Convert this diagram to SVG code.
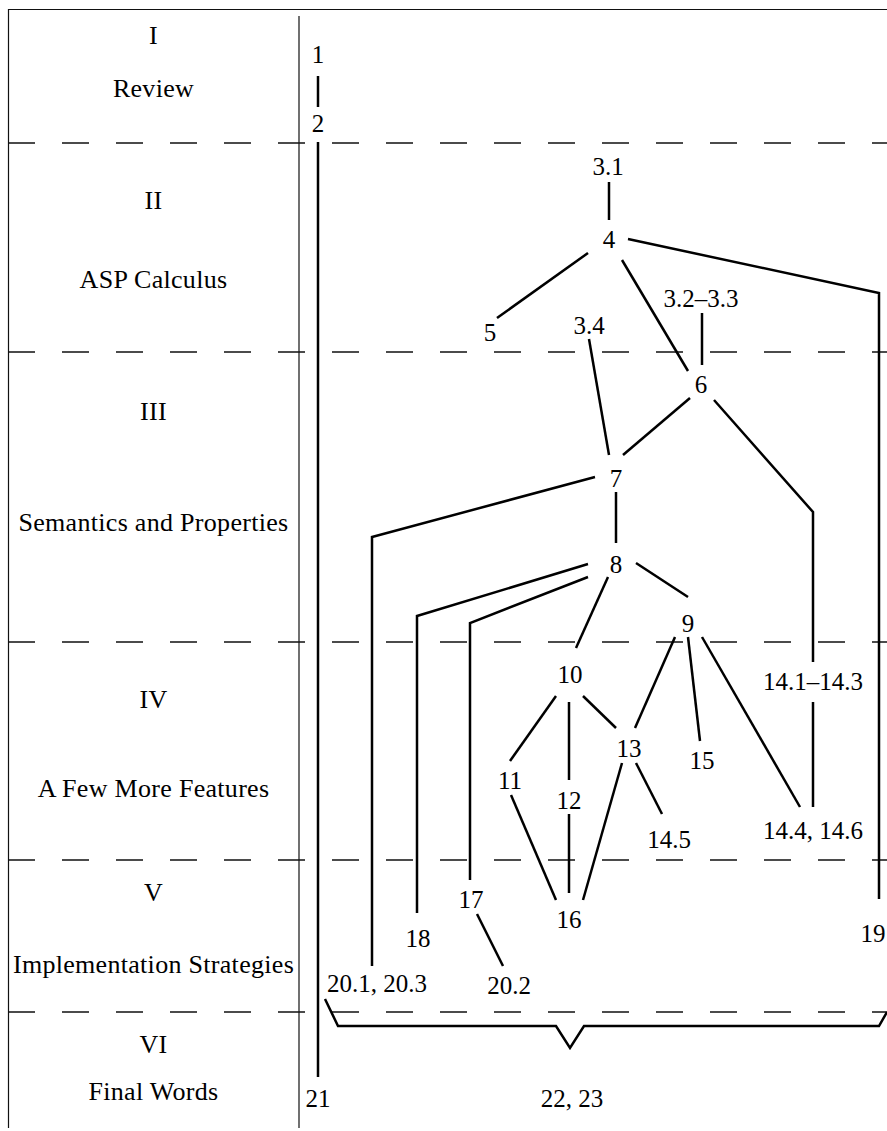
<svg xmlns="http://www.w3.org/2000/svg" width="887" height="1131" viewBox="0 0 887 1131">
<style>
.t{font-family:"Liberation Serif","Times New Roman",serif;font-size:25px;text-anchor:middle;fill:#000}
.p{font-size:26px;letter-spacing:0.3px}
.thin{stroke:#111;stroke-width:1.2;fill:none}
.dash{stroke:#111;stroke-width:1.3;fill:none;stroke-dasharray:27 27}
.c{stroke:#000;stroke-width:2.5;fill:none;stroke-linejoin:miter}
</style>
<rect width="887" height="1131" fill="#fff"/>
<g id="frame">
<path class="thin" d="M8.5,1128 V9.5 H887"/>
<path class="thin" d="M299,16 V1128"/>
<path class="dash" d="M8,143 H887 M8,352 H887 M8,642 H887 M8,860 H887 M8,1012 H887"/>
</g>
<g id="parts">
<g id="part-I"><text class="t p" x="153.5" y="44">I</text><text class="t p" x="153.5" y="97">Review</text></g>
<g id="part-II"><text class="t p" x="153.5" y="209">II</text><text class="t p" x="153.5" y="288">ASP Calculus</text></g>
<g id="part-III"><text class="t p" x="153.5" y="420">III</text><text class="t p" x="153.5" y="531">Semantics and Properties</text></g>
<g id="part-IV"><text class="t p" x="153.5" y="708">IV</text><text class="t p" x="153.5" y="797">A Few More Features</text></g>
<g id="part-V"><text class="t p" x="153.5" y="901">V</text><text class="t p" x="153.5" y="973">Implementation Strategies</text></g>
<g id="part-VI"><text class="t p" x="153.5" y="1053">VI</text><text class="t p" x="153.5" y="1100">Final Words</text></g>
</g>
<g id="connectors">
<path class="c" d="M318,76 V107"/>
<path class="c" d="M318,142 V1077"/>
<path class="c" d="M609,182 V220"/>
<path class="c" d="M628,239 L879,293 V899"/>
<path class="c" d="M588,253 L497,318"/>
<path class="c" d="M622,260 L688,371"/>
<path class="c" d="M702,313 V365"/>
<path class="c" d="M589,339 L609,455"/>
<path class="c" d="M690,398 L623,455"/>
<path class="c" d="M714,400 L813,512 V662"/>
<path class="c" d="M813,702 V807"/>
<path class="c" d="M616,492 V543"/>
<path class="c" d="M595,477 L372,537 V966"/>
<path class="c" d="M588,564 L417,616 V913"/>
<path class="c" d="M588,577 L470,623 V880"/>
<path class="c" d="M608,577 L576,648"/>
<path class="c" d="M636,563 L688,597"/>
<path class="c" d="M675,637 L635,728"/>
<path class="c" d="M688,637 L700,741"/>
<path class="c" d="M702,637 L800,807"/>
<path class="c" d="M556,696 L510,761"/>
<path class="c" d="M569,702 V780"/>
<path class="c" d="M583,696 L616,728"/>
<path class="c" d="M622,763 L583,900"/>
<path class="c" d="M636,763 L662,814"/>
<path class="c" d="M511,795 L556,900"/>
<path class="c" d="M569,814 V893"/>
<path class="c" d="M477,914 L503,966"/>
<path class="c" d="M325,999 L338,1026 H556 L570,1048 L584,1026 H879 L887,1012"/>
</g>
<g id="nodes">
<g id="n1"><text class="t" x="318" y="63">1</text></g>
<g id="n2"><text class="t" x="318" y="132">2</text></g>
<g id="n3-1"><text class="t" x="608" y="175">3.1</text></g>
<g id="n4"><text class="t" x="609" y="248">4</text></g>
<g id="n5"><text class="t" x="490" y="341">5</text></g>
<g id="n3-2"><text class="t" x="701" y="307">3.2–3.3</text></g>
<g id="n3-4"><text class="t" x="589" y="334">3.4</text></g>
<g id="n6"><text class="t" x="701" y="393">6</text></g>
<g id="n7"><text class="t" x="616" y="487">7</text></g>
<g id="n8"><text class="t" x="616" y="573">8</text></g>
<g id="n9"><text class="t" x="688" y="632">9</text></g>
<g id="n10"><text class="t" x="570" y="683">10</text></g>
<g id="n11"><text class="t" x="510" y="789">11</text></g>
<g id="n12"><text class="t" x="569" y="809">12</text></g>
<g id="n13"><text class="t" x="629" y="757">13</text></g>
<g id="n14-1"><text class="t" x="813" y="690">14.1–14.3</text></g>
<g id="n14-4"><text class="t" x="813" y="839">14.4, 14.6</text></g>
<g id="n14-5"><text class="t" x="669" y="848">14.5</text></g>
<g id="n15"><text class="t" x="702" y="769">15</text></g>
<g id="n16"><text class="t" x="569" y="928">16</text></g>
<g id="n17"><text class="t" x="471" y="908">17</text></g>
<g id="n18"><text class="t" x="418" y="947">18</text></g>
<g id="n19"><text class="t" x="873" y="942">19</text></g>
<g id="n20-1"><text class="t" x="377" y="992">20.1, 20.3</text></g>
<g id="n20-2"><text class="t" x="509" y="994">20.2</text></g>
<g id="n21"><text class="t" x="318" y="1107">21</text></g>
<g id="n22"><text class="t" x="572" y="1107">22, 23</text></g>
</g>
</svg>
